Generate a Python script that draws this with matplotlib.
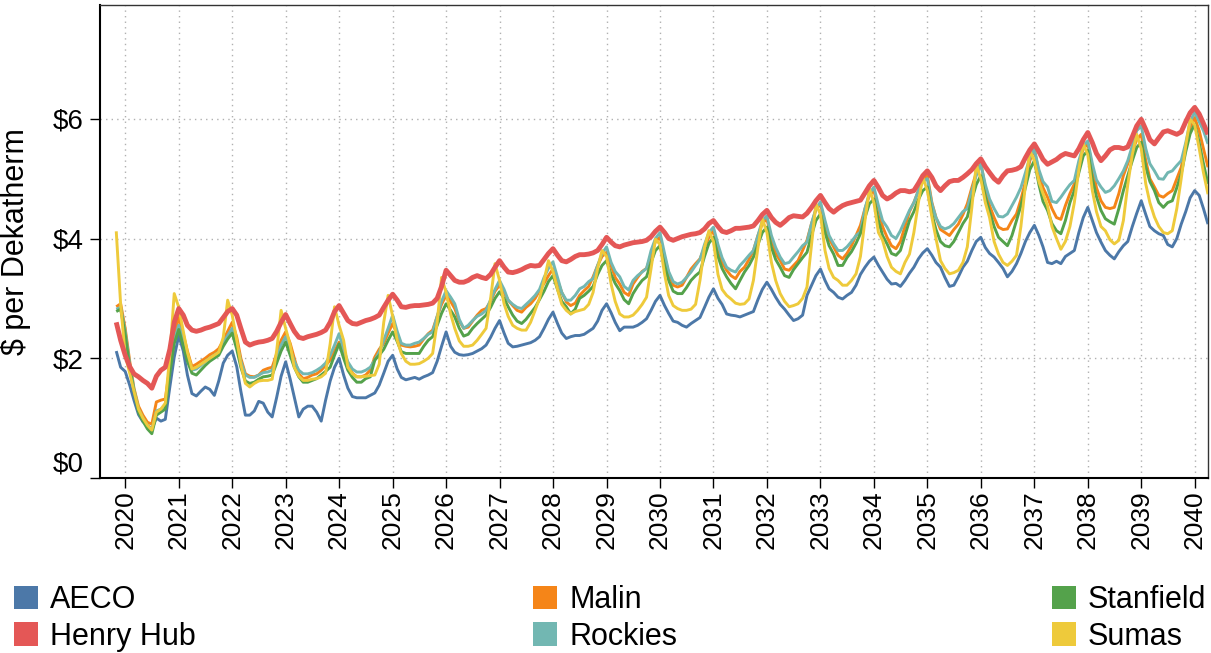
"""
Monthly natural gas price forecast by trading hub, Nov 2019 - Apr 2040.
"""

import matplotlib
matplotlib.use("Agg")
import matplotlib.pyplot as plt
import matplotlib.dates as mdates
import pandas as pd
from matplotlib.patches import Patch

plt.rcParams["font.family"] = ["Liberation Sans", "DejaVu Sans"]

# Monthly values in $ per dekatherm, first point is Nov 2019 (one row per year)
aeco = [
    2.12, 1.85,
    1.78, 1.55, 1.30, 1.06, 0.94, 0.88, 0.82, 1.00, 0.95, 0.98, 1.52, 2.02,
    2.38, 2.12, 1.72, 1.41, 1.37, 1.45, 1.52, 1.48, 1.38, 1.62, 1.92, 2.05,
    2.12, 1.86, 1.45, 1.05, 1.05, 1.12, 1.28, 1.25, 1.10, 1.02, 1.35, 1.70,
    1.94, 1.65, 1.35, 1.02, 1.15, 1.20, 1.20, 1.10, 0.95, 1.30, 1.62, 1.85,
    2.00, 1.72, 1.50, 1.36, 1.34, 1.34, 1.34, 1.38, 1.42, 1.55, 1.75, 1.95,
    2.05, 1.82, 1.68, 1.64, 1.66, 1.68, 1.65, 1.69, 1.72, 1.76, 1.95, 2.20,
    2.44, 2.20, 2.10, 2.06, 2.05, 2.06, 2.08, 2.12, 2.16, 2.22, 2.35, 2.50,
    2.63, 2.42, 2.25, 2.19, 2.20, 2.22, 2.24, 2.26, 2.30, 2.36, 2.50, 2.65,
    2.77, 2.58, 2.42, 2.33, 2.36, 2.38, 2.38, 2.40, 2.45, 2.50, 2.62, 2.80,
    2.91, 2.76, 2.60, 2.46, 2.52, 2.52, 2.52, 2.55, 2.60, 2.66, 2.80, 2.95,
    3.05, 2.88, 2.75, 2.62, 2.60, 2.55, 2.52, 2.58, 2.63, 2.68, 2.85, 3.02,
    3.16, 3.00, 2.90, 2.74, 2.72, 2.71, 2.69, 2.72, 2.75, 2.78, 2.98, 3.15,
    3.27, 3.15, 3.02, 2.90, 2.82, 2.72, 2.63, 2.66, 2.72, 3.05, 3.22, 3.38,
    3.49, 3.30, 3.16, 3.10, 3.02, 2.99, 3.05, 3.10, 3.22, 3.40, 3.52, 3.62,
    3.69, 3.55, 3.44, 3.32, 3.24, 3.25, 3.20, 3.30, 3.42, 3.52, 3.66, 3.76,
    3.83, 3.72, 3.60, 3.52, 3.35, 3.20, 3.22, 3.36, 3.52, 3.62, 3.80, 3.95,
    4.02, 3.85, 3.75, 3.69, 3.60, 3.50, 3.36, 3.45, 3.58, 3.75, 3.95, 4.10,
    4.22, 4.05, 3.86, 3.60, 3.58, 3.62, 3.58, 3.70, 3.75, 3.80, 4.10, 4.35,
    4.52, 4.30, 4.10, 3.94, 3.80, 3.72, 3.66, 3.78, 3.88, 3.95, 4.20, 4.42,
    4.63, 4.40, 4.20, 4.13, 4.08, 4.05, 3.90, 3.86, 4.00, 4.24, 4.45, 4.68,
    4.80, 4.72, 4.50, 4.24,
]

henry_hub = [
    2.60, 2.30,
    2.05, 1.86, 1.74, 1.69, 1.63, 1.58, 1.50, 1.70, 1.80, 1.85, 2.15, 2.60,
    2.83, 2.72, 2.55, 2.47, 2.45, 2.47, 2.50, 2.52, 2.55, 2.58, 2.68, 2.78,
    2.83, 2.72, 2.50, 2.27, 2.22, 2.25, 2.27, 2.28, 2.30, 2.33, 2.45, 2.60,
    2.73, 2.58, 2.45, 2.35, 2.33, 2.36, 2.38, 2.40, 2.43, 2.47, 2.60, 2.78,
    2.88, 2.75, 2.63, 2.58, 2.57, 2.60, 2.63, 2.65, 2.68, 2.72, 2.85, 2.97,
    3.07, 2.97, 2.86, 2.85, 2.87, 2.88, 2.88, 2.89, 2.90, 2.92, 3.00, 3.20,
    3.47, 3.38, 3.30, 3.27, 3.27, 3.30, 3.35, 3.38, 3.35, 3.33, 3.40, 3.52,
    3.63, 3.52, 3.44, 3.43, 3.45, 3.48, 3.52, 3.55, 3.54, 3.55, 3.65, 3.75,
    3.83, 3.72, 3.63, 3.61, 3.65, 3.70, 3.73, 3.73, 3.74, 3.76, 3.80, 3.90,
    4.02, 3.94, 3.88, 3.86, 3.89, 3.91, 3.93, 3.94, 3.95, 3.97, 4.03, 4.12,
    4.19, 4.10, 4.00, 3.97, 4.00, 4.03, 4.05, 4.07, 4.08, 4.10, 4.16, 4.25,
    4.30, 4.20, 4.12, 4.10, 4.13, 4.17, 4.17, 4.18, 4.19, 4.21, 4.30, 4.40,
    4.47, 4.35, 4.27, 4.22, 4.28, 4.35, 4.38, 4.37, 4.36, 4.42, 4.52, 4.63,
    4.72, 4.60, 4.50, 4.44, 4.50, 4.55, 4.58, 4.60, 4.62, 4.64, 4.76, 4.88,
    4.97, 4.85, 4.72, 4.66, 4.70, 4.76, 4.80, 4.80, 4.78, 4.80, 4.92, 5.05,
    5.13, 5.02, 4.88, 4.80, 4.88, 4.95, 4.97, 4.97, 5.02, 5.08, 5.15, 5.25,
    5.33, 5.20, 5.10, 5.00, 4.94, 5.05, 5.13, 5.14, 5.16, 5.20, 5.35, 5.48,
    5.58, 5.45, 5.32, 5.24, 5.28, 5.32, 5.38, 5.42, 5.40, 5.38, 5.50, 5.65,
    5.77, 5.60, 5.42, 5.30, 5.38, 5.48, 5.52, 5.52, 5.50, 5.53, 5.70, 5.88,
    5.99, 5.82, 5.65, 5.58, 5.68, 5.78, 5.80, 5.77, 5.74, 5.78, 5.95, 6.10,
    6.19, 6.08, 5.92, 5.74,
]

malin = [
    2.86, 2.91,
    2.50, 1.95, 1.50, 1.20, 1.05, 0.93, 0.90, 1.27, 1.30, 1.32, 1.86, 2.40,
    2.68, 2.40, 2.12, 1.86, 1.90, 1.95, 2.00, 2.06, 2.10, 2.16, 2.30, 2.45,
    2.60, 2.35, 2.00, 1.74, 1.70, 1.69, 1.72, 1.80, 1.83, 1.85, 2.08, 2.30,
    2.44, 2.25, 2.00, 1.74, 1.66, 1.68, 1.72, 1.74, 1.80, 1.88, 1.97, 2.12,
    2.27, 2.05, 1.91, 1.75, 1.69, 1.69, 1.72, 1.80, 2.02, 2.15, 2.25, 2.42,
    2.58, 2.40, 2.22, 2.20, 2.19, 2.20, 2.22, 2.32, 2.41, 2.47, 2.70, 2.90,
    3.05, 2.95, 2.83, 2.62, 2.50, 2.52, 2.62, 2.72, 2.80, 2.83, 2.95, 3.12,
    3.22, 3.10, 2.97, 2.88, 2.80, 2.77, 2.85, 2.91, 3.00, 3.13, 3.25, 3.38,
    3.49, 3.30, 3.10, 2.94, 2.88, 2.92, 3.05, 3.13, 3.20, 3.36, 3.55, 3.70,
    3.77, 3.55, 3.35, 3.24, 3.10, 3.05, 3.24, 3.35, 3.45, 3.50, 3.72, 3.95,
    4.02, 3.70, 3.42, 3.22, 3.19, 3.22, 3.35, 3.49, 3.58, 3.66, 3.85, 4.02,
    4.13, 3.85, 3.60, 3.47, 3.38, 3.33, 3.45, 3.52, 3.65, 3.80, 4.05, 4.25,
    4.33, 4.00, 3.75, 3.63, 3.49, 3.47, 3.55, 3.63, 3.80, 3.97, 4.25, 4.48,
    4.58, 4.25, 4.00, 3.86, 3.72, 3.66, 3.75, 3.88, 4.05, 4.22, 4.50, 4.72,
    4.80, 4.50, 4.20, 4.02, 3.88, 3.83, 3.95, 4.20, 4.45, 4.60, 4.80, 4.97,
    5.05, 4.60, 4.35, 4.15, 4.10, 4.05, 4.15, 4.24, 4.40, 4.58, 4.85, 5.10,
    5.27, 4.85, 4.55, 4.35, 4.19, 4.15, 4.16, 4.30, 4.41, 4.65, 4.95, 5.30,
    5.49, 5.10, 4.85, 4.69, 4.50, 4.35, 4.32, 4.55, 4.75, 4.91, 5.25, 5.50,
    5.58, 5.20, 4.85, 4.63, 4.52, 4.50, 4.52, 4.75, 5.05, 5.25, 5.45, 5.65,
    5.74, 5.30, 5.00, 4.86, 4.72, 4.69, 4.75, 4.80, 5.00, 5.19, 5.55, 5.85,
    6.02, 5.80, 5.50, 5.19,
]

rockies = [
    2.82, 2.85,
    2.45, 1.90, 1.48, 1.15, 1.00, 0.88, 0.80, 1.12, 1.15, 1.20, 1.80, 2.30,
    2.55, 2.30, 2.05, 1.80, 1.82, 1.88, 1.95, 2.00, 2.05, 2.10, 2.25, 2.38,
    2.50, 2.25, 1.95, 1.72, 1.68, 1.68, 1.72, 1.76, 1.77, 1.80, 2.00, 2.22,
    2.36, 2.15, 1.95, 1.80, 1.74, 1.74, 1.76, 1.80, 1.85, 1.92, 2.05, 2.22,
    2.41, 2.15, 1.94, 1.82, 1.77, 1.77, 1.80, 1.85, 1.97, 2.10, 2.30, 2.50,
    2.72, 2.45, 2.25, 2.22, 2.22, 2.25, 2.27, 2.33, 2.40, 2.44, 2.70, 2.95,
    3.13, 3.02, 2.91, 2.65, 2.50, 2.55, 2.63, 2.70, 2.74, 2.80, 2.98, 3.15,
    3.30, 3.15, 2.97, 2.90, 2.85, 2.83, 2.90, 2.97, 3.05, 3.15, 3.35, 3.50,
    3.61, 3.35, 3.10, 2.97, 2.97, 3.05, 3.16, 3.20, 3.28, 3.33, 3.55, 3.75,
    3.86, 3.60, 3.45, 3.36, 3.20, 3.14, 3.30, 3.38, 3.44, 3.50, 3.80, 4.00,
    4.10, 3.75, 3.45, 3.28, 3.24, 3.27, 3.35, 3.44, 3.55, 3.65, 3.90, 4.10,
    4.19, 3.90, 3.68, 3.52, 3.47, 3.44, 3.55, 3.63, 3.72, 3.80, 4.05, 4.30,
    4.38, 4.05, 3.85, 3.69, 3.58, 3.60, 3.69, 3.78, 3.88, 3.94, 4.25, 4.50,
    4.61, 4.30, 4.05, 3.91, 3.80, 3.80, 3.86, 3.95, 4.05, 4.11, 4.50, 4.75,
    4.86, 4.55, 4.30, 4.19, 4.05, 4.00, 4.13, 4.30, 4.47, 4.60, 4.80, 4.95,
    5.00, 4.58, 4.35, 4.20, 4.16, 4.19, 4.25, 4.35, 4.45, 4.50, 4.80, 5.05,
    5.24, 4.90, 4.66, 4.50, 4.37, 4.36, 4.41, 4.55, 4.69, 4.85, 5.10, 5.35,
    5.49, 5.15, 4.95, 4.86, 4.62, 4.60, 4.69, 4.80, 4.90, 4.97, 5.30, 5.55,
    5.63, 5.25, 4.98, 4.86, 4.77, 4.80, 4.88, 5.00, 5.13, 5.30, 5.55, 5.80,
    5.88, 5.50, 5.25, 5.13, 5.00, 4.99, 5.10, 5.13, 5.22, 5.30, 5.60, 5.95,
    6.11, 5.95, 5.80, 5.58,
]

stanfield = [
    2.78, 2.82,
    2.40, 1.85, 1.45, 1.10, 0.95, 0.82, 0.74, 1.05, 1.10, 1.15, 1.75, 2.25,
    2.48, 2.20, 1.95, 1.75, 1.72, 1.80, 1.88, 1.95, 2.00, 2.05, 2.20, 2.32,
    2.42, 2.15, 1.85, 1.62, 1.58, 1.60, 1.65, 1.69, 1.70, 1.72, 1.92, 2.12,
    2.27, 2.05, 1.85, 1.69, 1.60, 1.60, 1.63, 1.66, 1.72, 1.78, 1.85, 2.05,
    2.24, 2.00, 1.80, 1.68, 1.60, 1.60, 1.66, 1.69, 1.97, 2.05, 2.15, 2.30,
    2.44, 2.28, 2.11, 2.08, 2.08, 2.08, 2.08, 2.20, 2.30, 2.36, 2.55, 2.75,
    2.91, 2.80, 2.69, 2.50, 2.37, 2.40, 2.50, 2.58, 2.65, 2.72, 2.85, 3.00,
    3.11, 3.00, 2.86, 2.72, 2.62, 2.58, 2.65, 2.75, 2.85, 2.98, 3.12, 3.28,
    3.38, 3.15, 2.95, 2.86, 2.74, 2.82, 3.00, 3.05, 3.12, 3.20, 3.40, 3.55,
    3.63, 3.40, 3.25, 3.13, 2.98, 2.91, 3.08, 3.20, 3.30, 3.36, 3.60, 3.80,
    3.88, 3.55, 3.30, 3.12, 3.08, 3.08, 3.18, 3.30, 3.38, 3.44, 3.70, 3.92,
    4.02, 3.70, 3.50, 3.36, 3.25, 3.16, 3.30, 3.44, 3.55, 3.69, 3.90, 4.10,
    4.19, 3.85, 3.65, 3.52, 3.38, 3.35, 3.48, 3.58, 3.68, 3.77, 4.05, 4.30,
    4.41, 4.10, 3.88, 3.74, 3.55, 3.55, 3.68, 3.78, 3.92, 4.08, 4.35, 4.58,
    4.66, 4.30, 4.05, 3.91, 3.75, 3.72, 3.80, 4.05, 4.30, 4.45, 4.65, 4.80,
    4.86, 4.41, 4.15, 3.95, 3.88, 3.86, 3.95, 4.10, 4.25, 4.36, 4.65, 4.90,
    5.05, 4.70, 4.45, 4.20, 4.02, 3.95, 3.88, 4.05, 4.30, 4.55, 4.85, 5.15,
    5.30, 4.90, 4.62, 4.47, 4.25, 4.13, 4.08, 4.30, 4.60, 4.80, 5.10, 5.38,
    5.47, 5.00, 4.70, 4.47, 4.33, 4.28, 4.24, 4.50, 4.80, 5.05, 5.30, 5.52,
    5.61, 5.20, 4.95, 4.80, 4.60, 4.52, 4.60, 4.63, 4.85, 5.08, 5.45, 5.75,
    5.91, 5.60, 5.25, 4.91,
]

sumas = [
    4.12, 2.90,
    2.05, 1.75, 1.45, 1.15, 1.00, 0.88, 0.80, 1.10, 1.15, 1.25, 2.05, 3.08,
    2.85, 2.45, 2.10, 1.82, 1.85, 1.90, 1.95, 2.00, 2.05, 2.10, 2.35, 2.97,
    2.72, 2.30, 1.90, 1.58, 1.52, 1.58, 1.62, 1.63, 1.63, 1.65, 2.13, 2.80,
    2.50, 2.22, 1.85, 1.70, 1.63, 1.63, 1.65, 1.66, 1.69, 1.75, 2.24, 2.86,
    2.55, 2.30, 1.85, 1.74, 1.69, 1.69, 1.70, 1.71, 1.72, 1.90, 2.60, 3.05,
    2.70, 2.30, 2.08, 1.95, 1.90, 1.90, 1.91, 1.95, 2.00, 2.08, 2.60, 3.35,
    3.10, 2.74, 2.50, 2.29, 2.20, 2.20, 2.22, 2.30, 2.40, 2.50, 3.00, 3.58,
    3.30, 2.91, 2.70, 2.55, 2.50, 2.47, 2.47, 2.60, 2.80, 3.00, 3.30, 3.63,
    3.45, 3.15, 2.90, 2.80, 2.74, 2.78, 2.80, 2.82, 2.90, 3.10, 3.50, 3.80,
    3.70, 3.24, 2.95, 2.74, 2.69, 2.69, 2.72, 2.80, 2.90, 3.02, 3.50, 3.99,
    3.90, 3.41, 3.05, 2.88, 2.83, 2.80, 2.80, 2.82, 2.90, 3.30, 3.85, 4.13,
    3.95, 3.40, 3.15, 3.05, 2.99, 2.92, 2.90, 2.91, 2.99, 3.30, 3.85, 4.33,
    4.10, 3.60, 3.30, 3.08, 2.95, 2.86, 2.88, 2.91, 3.00, 3.19, 3.90, 4.58,
    4.40, 3.80, 3.50, 3.35, 3.30, 3.22, 3.22, 3.30, 3.41, 3.70, 4.30, 4.83,
    4.60, 4.10, 3.97, 3.70, 3.52, 3.45, 3.41, 3.60, 3.74, 4.10, 4.60, 5.02,
    4.80, 4.36, 4.00, 3.63, 3.50, 3.41, 3.43, 3.47, 3.60, 3.86, 4.52, 5.24,
    5.00, 4.60, 4.35, 3.95, 3.74, 3.60, 3.55, 3.62, 3.72, 4.20, 4.90, 5.47,
    5.30, 4.95, 4.75, 4.55, 4.20, 4.00, 3.82, 3.95, 4.20, 4.60, 5.15, 5.58,
    5.40, 4.80, 4.45, 4.20, 4.13, 3.98, 3.91, 3.97, 4.30, 4.90, 5.40, 5.74,
    5.50, 4.91, 4.60, 4.36, 4.20, 4.10, 4.08, 4.13, 4.50, 5.00, 5.55, 5.99,
    5.90, 5.50, 5.10, 4.74,
]

hubs = ["AECO", "Henry Hub", "Malin", "Rockies", "Stanfield", "Sumas"]
colors = ["#4c78a8", "#e45756", "#f58518", "#72b7b2", "#54a24b", "#eeca3b"]
y_ticks = [0, 2, 4, 6]


def draw_series(ax, values, color, lw, z):
    dates = pd.date_range("2019-11-01", periods=len(values), freq="MS")
    ax.plot(dates, values, color=color, lw=lw, zorder=z,
            solid_joinstyle="round", solid_capstyle="butt")


fig = plt.figure(figsize=(12.11, 6.53), dpi=100)
ax = fig.add_axes([100 / 1211, 1 - 478 / 653, 1108 / 1211, 473 / 653])

series = [aeco, henry_hub, malin, rockies, stanfield, sumas]
for i, (vals, col) in enumerate(zip(series, colors)):
    if hubs[i] == "Henry Hub":
        draw_series(ax, vals, col, 3.5, 10)
    else:
        draw_series(ax, vals, col, 2.1, 3 + i)

ax.set_xlim(pd.Timestamp("2019-07-13"), pd.Timestamp("2040-04-01"))
ax.set_ylim(0, 7.9)

ax.xaxis.set_major_locator(mdates.YearLocator(1))
ax.xaxis.set_major_formatter(mdates.DateFormatter("%Y"))
ax.set_yticks(y_ticks)
ax.set_yticklabels([f"${v}" for v in y_ticks])

ax.grid(True, color="#b0b0b0", linestyle=(0, (1, 3)), linewidth=1.0, zorder=0)
ax.set_axisbelow(True)

ax.tick_params(axis="y", length=7, width=1, pad=5, labelsize=20)
ax.tick_params(axis="x", length=7, width=1, pad=2, labelsize=19,
               labelrotation=90)
for lab in ax.get_xticklabels():
    lab.set_verticalalignment("top")
ax.get_yticklabels()[0].set_verticalalignment("bottom")

for side in ["left", "bottom"]:
    ax.spines[side].set_linewidth(1.5)
for side in ["top", "right"]:
    ax.spines[side].set_linewidth(1.0)
    ax.spines[side].set_color("#333333")

ax.set_ylabel("$ per Dekatherm", fontsize=22)
ax.yaxis.set_label_coords(-0.062, 0.5)

# legend: three columns of two entries
col_x = [14, 533, 1052]
for c in range(3):
    handles = [Patch(facecolor=colors[2 * c + r], edgecolor="none",
                     label=hubs[2 * c + r]) for r in range(2)]
    fig.legend(handles=handles, loc="upper left",
               bbox_to_anchor=(col_x[c] / 1211, 1 - 585 / 653),
               frameon=False, fontsize=22, handlelength=0.8,
               handleheight=0.8, handletextpad=0.38, labelspacing=0.22,
               borderpad=0, borderaxespad=0)

fig.savefig("out.png", dpi=100)
